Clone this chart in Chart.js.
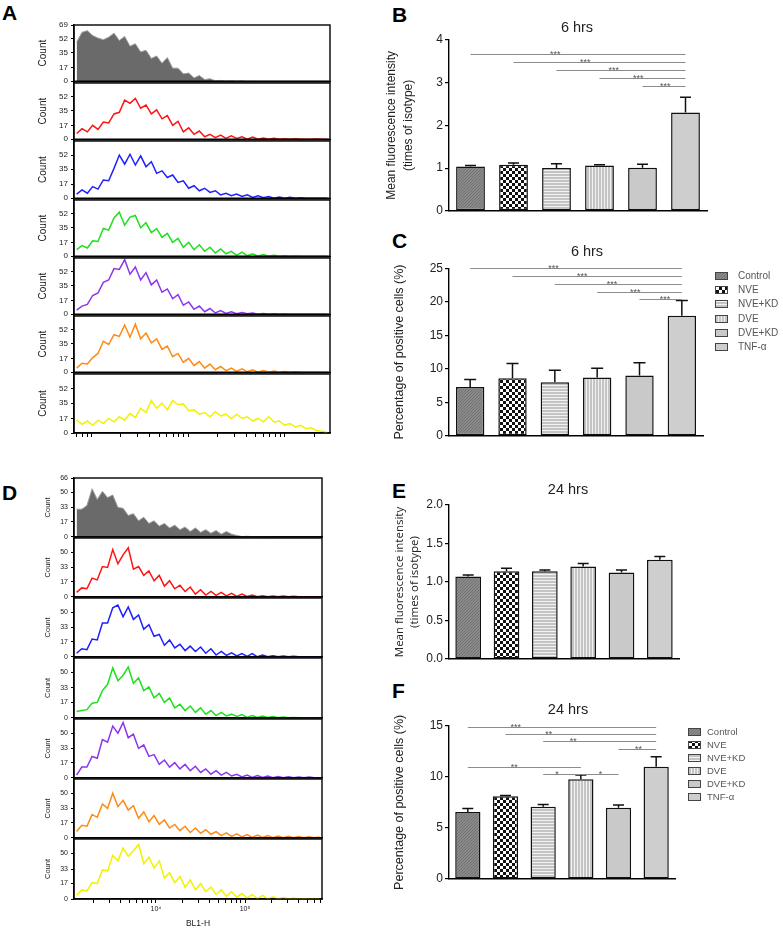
<!DOCTYPE html>
<html>
<head>
<meta charset="utf-8">
<script src="https://cdn.jsdelivr.net/npm/chart.js@4.4.1/dist/chart.umd.min.js"></script>
<style>
  html, body { margin: 0; padding: 0; background: #fff; }
  #fig { position: relative; width: 783px; height: 930px; overflow: hidden; }
  #fig canvas { position: absolute; }
  .tag { position: absolute; font: bold 21px "Liberation Sans", Arial, sans-serif; line-height: 21px; color: #000; }
</style>
</head>
<body>
<div id="fig">
  <div class="tag" style="left:2px;top:2px">A</div>
  <div class="tag" style="left:392px;top:4px">B</div>
  <div class="tag" style="left:392px;top:230px">C</div>
  <div class="tag" style="left:2px;top:482px">D</div>
  <div class="tag" style="left:392px;top:480px">E</div>
  <div class="tag" style="left:392px;top:680px">F</div>
</div>
<script>
const FONT = '"Liberation Sans", "DejaVu Sans", Arial, sans-serif';
Chart.defaults.font.family = FONT;

// --- histogrammes BL1-H (48 classes log), 6 h ---
const histA1 = [48,60,62,56,53,51,54,59,50,55, 43,46,36,38,28,31,22,29,16,16, 9,10,4,7,2,3,0.5,1,0.3,0.6, 0.2,0.4,0,0.2,0,0,0,0,0,0, 0,0,0,0,0,0,0,0];
const histA2 = [7,13,9,17,12,21,20,31,33,48, 44,50,38,42,31,36,25,29,17,22, 9,14,6,10,3,6,2,5,1,4, 1,3,0,2.5,0,1.5,0,1.2,0,0.6, 0,0.4,0,0,0,0.3,0,0];
const histA3 = [5,10,6,14,11,22,21,36,52,41, 53,40,51,38,44,30,33,25,28,19, 21,12,15,9,12,7,9,4,6,3, 5,2,4,1,3,0.5,2,0,1.5,0, 1,0,0.5,0,0,0,0,0];
const histA4 = [8,13,10,19,18,34,32,47,54,38, 48,50,35,41,29,34,23,28,17,22, 11,17,8,14,6,11,4,9,3,6, 1,5,0.5,3,0,2,0,1.2,0,0.6, 0,0.3,0,0,0,0,0,0];
const histA5 = [5,10,12,23,26,39,42,56,55,67, 49,58,42,51,36,42,27,31,19,24, 11,15,6,10,3,7,1.5,4.5,1,3, 0.5,2,0.5,1.5,0,1,0,0.5,0,0.3, 0,0,0,0,0,0,0,0];
const histA6 = [5,11,10,18,23,38,34,46,44,58, 43,59,41,48,36,41,28,32,19,23, 12,17,8,13,5,10,3,7,2,5, 1,4,0.5,3,0,2,0,1.5,0,1, 0,0.5,0,0,0,0,0,0];
const histA7 = [15,10,14,9,15,11,17,13,19,15, 23,18,29,24,38,29,35,27,38,33, 34,26,27,22,24,19,25,20,22,17, 22,17,19,14,17,13,19,13,14,9, 11,7,9,5,6,3,2,0.5];

// --- histogrammes BL1-H, 24 h ---
const histD1 = [31,31,35,54,42,51,44,47,33,32, 24,26,18,22,15,18,12,15,10,13, 8,11,6,10,5,8,4,7,3,6, 3,1.5,0.3,0.6,0.2,0.4,0.1,0.3,0,0, 0,0,0,0,0,0,0,0];
const histD2 = [5,10,9,21,19,34,33,53,37,47, 55,31,34,24,29,18,24,12,18,9, 13,6,11,3,8,2,6,1.5,5,1, 4,0.5,3,0.3,2,0,1.2,0,1,0, 0.8,0,0.5,0,0,0,0,0];
const histD3 = [4,9,8,20,19,38,38,55,58,45, 56,42,47,31,36,23,25,13,19,10, 14,7,12,6,11,4,9,2,6,1.5, 4.5,1,3.5,0.5,3.5,0,2,0,1.2,0, 1,0,0.7,0,0,0,0,0];
const histD4 = [7,8,9,16,17,30,37,55,41,47, 56,38,44,30,34,22,27,17,22,11, 15,8,13,6,11,4,8,2.5,6,2, 4,1.5,3.5,0.5,2.5,0.3,2,0.3,1.5,0, 1,0,0.3,0,0,0,0,0];
const histD5 = [3,12,12,24,22,43,40,58,50,62, 45,49,33,37,24,26,15,20,12,17, 10,15,8,13,6,10,4,8,3,6, 2,4,1,3,0.5,2.5,0.3,2,0,1.5, 0,1.2,0,1,0,1,0,0];
const histD6 = [7,14,13,26,23,38,33,50,35,42, 31,36,22,29,18,25,15,20,11,15, 8,13,6,11,5,9,4,7,2.5,5.5, 1.5,4.5,1,3.5,0.5,3,0.3,2.5,0,2, 0,1.8,0,1.5,0,1.2,0,1];
const histD7 = [4,10,9,18,17,32,31,48,42,56, 47,53,60,39,46,34,42,23,29,18, 25,13,21,10,17,8,13,5,10,3, 8,2,6,1,5,0.5,4,0,2.5,0, 1.5,0,1,0,0.5,0,0,0];

const histColors = ['#6a6a6a', '#ff1414', '#1f1fff', '#1ee01e', '#8c36ee', '#ff8a14', '#f2f200'];
const histATicks = [0, 17, 35, 52, 69];
const histDTicks = [0, 17, 33, 50, 66];

// --- barres ---
const groups = ['Control', 'NVE', 'NVE+KD', 'DVE', 'DVE+KD', 'TNF-α'];
const mfi6 = [1.04, 1.08, 1.00, 1.06, 1.01, 2.30];
const mfi6Err = [0.02, 0.04, 0.10, 0.02, 0.08, 0.36];
const pct6 = [7.3, 8.6, 8.0, 8.7, 9.0, 17.9];
const pct6Err = [1.1, 2.2, 1.8, 1.4, 1.9, 2.3];
const mfi24 = [1.07, 1.14, 1.14, 1.20, 1.125, 1.29];
const mfi24Err = [0.02, 0.04, 0.015, 0.04, 0.03, 0.04];
const pct24 = [6.55, 8.1, 7.07, 9.75, 6.98, 10.99];
const pct24Err = [0.35, 0.08, 0.23, 0.42, 0.26, 0.98];

// comparaisons : [de, à, niveau, marque, position de la marque]
const sigMfi6 = [[0, 5, 3.67, '***', 1.97], [1, 5, 3.49, '***', 2.67], [2, 5, 3.29, '***', 3.33], [3, 5, 3.10, '***', 3.9], [4, 5, 2.93, '***', 4.53]];
const sigPct6 = [[0, 5, 25.0, '***', 1.97], [1, 5, 23.9, '***', 2.65], [2, 5, 22.6, '***', 3.35], [3, 5, 21.5, '***', 3.9], [4, 5, 20.4, '***', 4.6]];
const sigPct24 = [[0, 5, 14.9, '***', 1.27], [1, 5, 14.2, '**', 2.15], [2, 5, 13.47, '**', 2.8], [4, 5, 12.68, '**', 4.53],
                  [0, 3, 10.92, '**', 1.23], [2, 3, 10.27, '*', 2.37], [3, 4, 10.27, '*', 3.52]];

const fig = document.getElementById('fig');

function addCanvas(left, top, width, height) {
    const c = document.createElement('canvas');
    c.width = width;
    c.height = height;
    c.style.left = left + 'px';
    c.style.top = top + 'px';
    c.style.width = width + 'px';
    c.style.height = height + 'px';
    fig.appendChild(c);
    return c;
}

// Motifs des barres
function makePattern(w, h, paint) {
    const c = document.createElement('canvas');
    c.width = w;
    c.height = h;
    paint(c.getContext('2d'));
    return c.getContext('2d').createPattern(c, 'repeat');
}
const groupFills = [
    makePattern(3, 3, (g) => {
        g.fillStyle = '#8a8a8a'; g.fillRect(0, 0, 3, 3);
        g.fillStyle = '#727272'; g.fillRect(0, 2, 1, 1); g.fillRect(1, 1, 1, 1); g.fillRect(2, 0, 1, 1);
    }),
    makePattern(6, 6, (g) => {
        g.fillStyle = '#111'; g.fillRect(0, 0, 6, 6);
        g.fillStyle = '#fff'; g.fillRect(0, 0, 3, 3); g.fillRect(3, 3, 3, 3);
    }),
    makePattern(1, 3, (g) => {
        g.fillStyle = '#c4c4c4'; g.fillRect(0, 0, 1, 3);
        g.fillStyle = '#f2f2f2'; g.fillRect(0, 2, 1, 1);
    }),
    makePattern(3, 1, (g) => {
        g.fillStyle = '#c4c4c4'; g.fillRect(0, 0, 3, 1);
        g.fillStyle = '#f2f2f2'; g.fillRect(2, 0, 1, 1);
    }),
    '#c9c9c9',
    '#cecece'
];

// Cadre autour des histogrammes
const framePlugin = {
    id: 'frame',
    afterDraw(chart, args, opts) {
        const { ctx, chartArea: a } = chart;
        ctx.save();
        ctx.strokeStyle = '#000';
        ctx.lineWidth = opts.width || 1.4;
        ctx.strokeRect(a.left, a.top, a.right - a.left, a.bottom - a.top);
        ctx.restore();
    }
};

const SUP = '⁰¹²³⁴⁵⁶⁷⁸⁹';
function isDecade(v) { return Math.abs(v - Math.round(v)) < 1e-9; }
function logTicks(range) {
    const out = [];
    for (let n = Math.floor(range[0]); n <= Math.ceil(range[1]); n++) {
        for (let k = 1; k <= 9; k++) {
            const v = n + Math.log10(k);
            if (v >= range[0] && v <= range[1]) out.push(v);
        }
    }
    return out;
}

function drawHistogram(cfg) {
    const padTop = 8, padRight = 6;
    const padBottom = cfg.axisHeight ? 0 : 6;
    const plotH = cfg.plotBottom - cfg.plotTop;
    const width = cfg.plotRight + padRight - cfg.canvasLeft;
    const height = padTop + plotH + cfg.axisHeight + padBottom;
    const canvas = addCanvas(cfg.canvasLeft, cfg.plotTop - padTop, width, height);
    const step = (cfg.range[1] - cfg.range[0]) / cfg.counts.length;
    const points = cfg.counts.map((n, i) => ({ x: cfg.range[0] + (i + 0.5) * step, y: n }));

    return new Chart(canvas, {
        type: 'line',
        data: {
            datasets: [{
                data: points,
                borderColor: cfg.filled ? '#a0a0a0' : cfg.color,
                backgroundColor: cfg.color,
                fill: cfg.filled ? 'origin' : false,
                borderWidth: cfg.filled ? 1 : 1.5,
                pointRadius: 0,
                tension: 0
            }]
        },
        options: {
            responsive: false,
            animation: false,
            events: [],
            layout: { padding: { top: padTop, right: padRight, bottom: padBottom, left: 0 } },
            plugins: { legend: { display: false }, tooltip: { enabled: false }, frame: { width: 1.4 } },
            scales: {
                x: {
                    type: 'linear',
                    min: cfg.range[0],
                    max: cfg.range[1],
                    afterBuildTicks: (s) => { s.ticks = logTicks(cfg.range).map((v) => ({ value: v })); },
                    afterFit: (s) => { s.height = cfg.axisHeight; },
                    grid: { display: cfg.axisHeight > 0, drawOnChartArea: false, tickLength: 4, color: '#000' },
                    border: { color: '#000', width: 1.4 },
                    ticks: {
                        display: !!cfg.xLabels,
                        autoSkip: false,
                        maxRotation: 0,
                        padding: 2,
                        color: '#222',
                        font: { size: 7 },
                        callback: (v) => (isDecade(v) ? '10' + SUP[Math.round(v)] : '')
                    },
                    title: { display: !!cfg.xTitle, text: cfg.xTitle, color: '#222', font: { size: 8.5 }, padding: { top: 2, bottom: 4 } }
                },
                y: {
                    min: 0,
                    max: cfg.yMax,
                    afterBuildTicks: (s) => { s.ticks = cfg.yTicks.map((v) => ({ value: v })); },
                    afterFit: (s) => { s.width = cfg.plotLeft - cfg.canvasLeft; },
                    grid: { display: true, drawOnChartArea: false, tickLength: 3, color: '#000' },
                    border: { color: '#000', width: 1.4 },
                    ticks: { padding: 3, color: '#222', font: { size: cfg.tickSize } },
                    title: { display: true, text: 'Count', color: '#222', font: { size: cfg.titleSize }, padding: { top: 4, bottom: 0 } }
                }
            }
        },
        plugins: [framePlugin]
    });
}

// Colonne A (6 h)
const histAData = [histA1, histA2, histA3, histA4, histA5, histA6, histA7];
histAData.forEach((counts, k) => {
    const last = k === histAData.length - 1;
    drawHistogram({
        counts, color: histColors[k], filled: k === 0,
        canvasLeft: 33, plotLeft: 74, plotRight: 330,
        plotTop: Math.round(25 + k * 58.24), plotBottom: Math.round(25 + (k + 1) * 58.24),
        range: [2.817, 5.466], yMax: 69,
        yTicks: k === 0 ? histATicks : histATicks.slice(0, 4),
        tickSize: 8, titleSize: 10,
        axisHeight: last ? 8 : 0
    });
});

// Colonne D (24 h)
const histDData = [histD1, histD2, histD3, histD4, histD5, histD6, histD7];
histDData.forEach((counts, k) => {
    const last = k === histDData.length - 1;
    drawHistogram({
        counts, color: histColors[k], filled: k === 0,
        canvasLeft: 39, plotLeft: 74, plotRight: 322,
        plotTop: Math.round(478 + k * 60.14), plotBottom: Math.round(478 + (k + 1) * 60.14),
        range: [3.079, 5.865], yMax: 66,
        yTicks: k === 0 ? histDTicks : histDTicks.slice(0, 4),
        tickSize: 7, titleSize: 7.5,
        axisHeight: last ? 34 : 0,
        xLabels: last, xTitle: last ? 'BL1-H' : ''
    });
});

// Titre du panneau, placé librement au-dessus de la zone du graphique
const panelTitlePlugin = {
    id: 'panelTitle',
    afterDraw(chart, args, o) {
        if (!o.text) return;
        const ctx = chart.ctx;
        ctx.save();
        ctx.font = '14.5px ' + FONT;
        ctx.fillStyle = '#222';
        ctx.textAlign = 'center';
        ctx.textBaseline = 'middle';
        ctx.fillText(o.text, o.x, o.y);
        ctx.restore();
    }
};

// Barres d'erreur (vers le haut seulement)
const errorBarsPlugin = {
    id: 'errorBars',
    afterDatasetsDraw(chart, args, o) {
        if (!o.errors) return;
        const { ctx, scales: { y } } = chart;
        const meta = chart.getDatasetMeta(0);
        const values = chart.data.datasets[0].data;
        ctx.save();
        ctx.strokeStyle = '#111';
        ctx.lineWidth = 1.5;
        meta.data.forEach((bar, i) => {
            const yTop = y.getPixelForValue(values[i] + o.errors[i]);
            ctx.beginPath();
            ctx.moveTo(bar.x, bar.y);
            ctx.lineTo(bar.x, yTop);
            ctx.moveTo(bar.x - o.cap / 2, yTop);
            ctx.lineTo(bar.x + o.cap / 2, yTop);
            ctx.stroke();
        });
        ctx.restore();
    }
};

// Lignes de significativité
const sigLinesPlugin = {
    id: 'sigLines',
    afterDatasetsDraw(chart, args, o) {
        if (!o.lines) return;
        const { ctx, scales: { x, y } } = chart;
        ctx.save();
        ctx.strokeStyle = '#8c8c8c';
        ctx.lineWidth = 1.2;
        ctx.fillStyle = '#555';
        ctx.font = '9px ' + FONT;
        ctx.textAlign = 'center';
        ctx.textBaseline = 'alphabetic';
        o.lines.forEach(([from, to, level, mark, at]) => {
            const py = Math.round(y.getPixelForValue(level)) + 0.5;
            ctx.beginPath();
            ctx.moveTo(x.getPixelForValue(from), py);
            ctx.lineTo(x.getPixelForValue(to), py);
            ctx.stroke();
            ctx.fillText(mark, x.getPixelForValue(at), py + 2);
        });
        ctx.restore();
    }
};

// Légende des groupes
const groupLegendPlugin = {
    id: 'groupLegend',
    afterDraw(chart, args, o) {
        if (!o.step) return;
        const ctx = chart.ctx;
        ctx.save();
        ctx.font = o.size + 'px ' + FONT;
        ctx.textBaseline = 'middle';
        ctx.textAlign = 'left';
        groups.forEach((g, i) => {
            const y = Math.round(o.y + i * o.step);
            ctx.fillStyle = groupFills[i];
            ctx.fillRect(o.x, y - 4, 13, 8);
            ctx.strokeStyle = '#444';
            ctx.lineWidth = 1;
            ctx.strokeRect(o.x + 0.5, y - 3.5, 12, 7);
            ctx.fillStyle = '#555';
            ctx.fillText(g, o.x + o.gap, y);
        });
        ctx.restore();
    }
};

function drawBarPanel(cfg) {
    const canvas = addCanvas(cfg.left, cfg.top, cfg.width, cfg.height);
    return new Chart(canvas, {
        type: 'bar',
        data: {
            labels: groups,
            datasets: [{
                data: cfg.values,
                backgroundColor: groupFills,
                borderColor: '#111',
                borderWidth: 1.5,
                borderSkipped: false,
                barPercentage: 0.67,
                categoryPercentage: 1
            }]
        },
        options: {
            responsive: false,
            animation: false,
            events: [],
            layout: { padding: { left: 0, top: cfg.padTop, right: cfg.padRight, bottom: cfg.padBottom } },
            plugins: {
                legend: { display: false },
                tooltip: { enabled: false },
                panelTitle: cfg.title,
                errorBars: { errors: cfg.errors, cap: cfg.cap },
                sigLines: { lines: cfg.sig },
                groupLegend: cfg.legend || {}
            },
            scales: {
                x: {
                    grid: { display: false },
                    ticks: { display: false },
                    border: { color: '#000', width: 1.4 },
                    afterFit: (s) => { s.height = 4; }
                },
                y: {
                    min: 0,
                    max: cfg.yMax,
                    ticks: { stepSize: cfg.yStep, padding: 2, color: '#222', font: { size: 12 }, callback: cfg.yFormat },
                    grid: { display: true, drawOnChartArea: false, tickLength: 4, color: '#000', lineWidth: 1.2 },
                    border: { color: '#000', width: 1.4 },
                    title: {
                        display: true,
                        text: cfg.yTitle,
                        color: '#222',
                        font: cfg.yTitleFont,
                        padding: { top: cfg.yTitlePad, bottom: 0 }
                    },
                    afterFit: (s) => { s.width = 69; }
                }
            }
        },
        plugins: [panelTitlePlugin, errorBarsPlugin, sigLinesPlugin, groupLegendPlugin]
    });
}

// B : MFI 6 h
drawBarPanel({
    left: 380, top: 0, width: 340, height: 220, padTop: 40, padRight: 13, padBottom: 5,
    title: { text: '6 hrs', x: 197, y: 28 },
    values: mfi6, errors: mfi6Err, cap: 11, sig: sigMfi6,
    yMax: 4, yStep: 1, yFormat: (v) => v,
    yTitle: ['Mean fluorescence intensity', '(times of isotype)'],
    yTitleFont: { size: 12, lineHeight: 1.35 }, yTitlePad: 4
});

// C : % cellules positives 6 h
drawBarPanel({
    left: 380, top: 215, width: 403, height: 230, padTop: 53.3, padRight: 80, padBottom: 4,
    title: { text: '6 hrs', x: 207, y: 37 },
    values: pct6, errors: pct6Err, cap: 12, sig: sigPct6,
    yMax: 25, yStep: 5, yFormat: (v) => v,
    yTitle: 'Percentage of positive cells (%)',
    yTitleFont: { size: 12.5 }, yTitlePad: 12.5,
    legend: { x: 335, y: 61, step: 14.2, gap: 23, size: 10 }
});

// E : MFI 24 h
drawBarPanel({
    left: 380, top: 470, width: 340, height: 200, padTop: 35, padRight: 41, padBottom: 7,
    title: { text: '24 hrs', x: 188, y: 20 },
    values: mfi24, errors: mfi24Err, cap: 11, sig: [],
    yMax: 2, yStep: 0.5, yFormat: (v) => v.toFixed(1),
    yTitle: ['Mean fluorescence intensity', '(times of isotype)'],
    yTitleFont: { size: 11.5, lineHeight: 1.25, family: '"Open Sans", ' + FONT }, yTitlePad: 12.8
});

// F : % cellules positives 24 h
drawBarPanel({
    left: 380, top: 680, width: 403, height: 210, padTop: 45.7, padRight: 108, padBottom: 7,
    title: { text: '24 hrs', x: 188, y: 30 },
    values: pct24, errors: pct24Err, cap: 11, sig: sigPct24,
    yMax: 15, yStep: 5, yFormat: (v) => v,
    yTitle: 'Percentage of positive cells (%)',
    yTitleFont: { size: 12.5 }, yTitlePad: 12.5,
    legend: { x: 308, y: 52.3, step: 13, gap: 19, size: 9.5 }
});
</script>
</body>
</html>
